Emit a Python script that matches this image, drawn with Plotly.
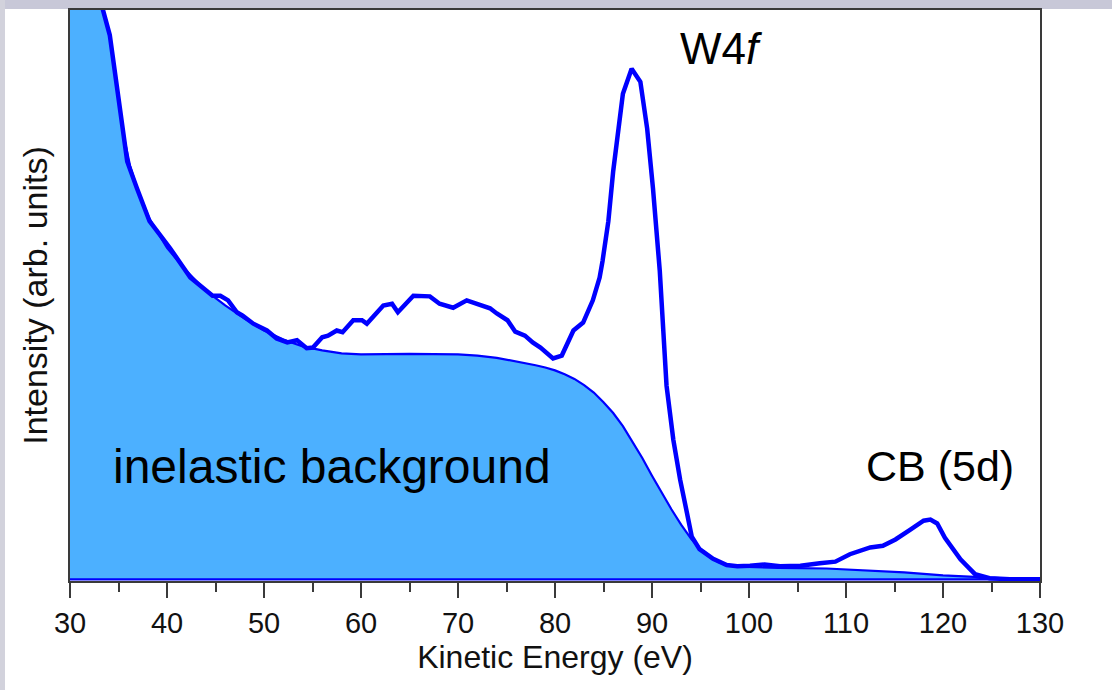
import plotly.graph_objects as go

# Measured spectrum: kinetic energy (eV) and intensity (arb. units)
spec_energy = [
    31.0, 32.0, 33.0, 33.4, 34.1, 34.6, 35.05, 35.6, 35.9, 36.9, 38.2, 40.3, 42.4,
    44.7, 45.5, 46.3, 47.2, 47.8, 48.9, 50.3, 51.3, 52.4, 53.4, 54.4, 55.05,
    56.0, 56.6, 57.5, 58.1, 59.2, 60.1, 60.6, 62.3, 63.2, 63.8, 65.4, 66.1,
    67.1, 68.1, 69.5, 70.9, 71.5, 73.3, 74.0, 75.1, 75.9, 76.9, 77.7, 78.5,
    79.8, 80.7, 81.9, 82.9, 83.9, 84.6, 84.9, 85.5, 86.0, 86.5, 87.0, 87.9,
    88.8, 89.5, 90.1, 90.8, 91.1, 91.5, 92.2, 92.9, 93.6, 94.1, 94.9, 96.3,
    97.7, 98.8, 100.1, 101.6, 103.2, 105.3, 107.3, 108.9, 110.4, 112.5, 113.8,
    115.1, 116.6, 118.0, 118.7, 119.4, 120.2, 121.8, 123.3, 124.8, 126.9, 130.0,
]
spec_intensity = [
    130.0, 115.0, 104.0, 100.0, 95.6, 89.7, 83.9, 78.1, 73.4, 68.7, 62.9, 58.2, 53.0,
    49.8, 49.8, 49.0, 46.9, 46.3, 44.9, 43.7, 42.3, 41.6, 42.0, 40.6, 40.7,
    42.5, 42.8, 43.7, 43.4, 45.5, 45.5, 44.9, 48.1, 48.4, 46.9, 49.8, 49.7,
    49.7, 48.4, 47.7, 49.0, 48.6, 47.6, 46.7, 45.5, 43.5, 42.8, 41.6, 40.7,
    38.8, 39.3, 43.7, 45.1, 49.0, 53.0, 55.9, 62.9, 71.7, 79.2, 85.3, 89.7,
    87.4, 79.2, 68.7, 54.2, 44.0, 34.0, 24.5, 17.5, 11.7, 7.5, 5.3, 3.6,
    2.5, 2.3, 2.4, 2.6, 2.3, 2.4, 2.8, 3.1, 4.4, 5.6, 5.9,
    7.0, 8.7, 10.3, 10.5, 9.8, 7.3, 3.5, 0.9, 0.2, 0.0, 0.0,
]

# Inelastic (secondary-electron) background
bg_energy = [
    30.0, 31.0, 32.0, 33.0, 33.4, 34.1, 34.6, 35.05, 35.6, 36.2, 37.0, 38.2, 40.0,
    42.0, 44.0, 46.0, 48.0, 50.0, 52.0, 54.0, 56.0, 58.0, 60.0, 65.0, 70.0,
    72.0, 74.0, 76.0, 78.0, 79.0, 80.0, 81.0, 82.0, 83.0, 84.0, 85.0, 86.0,
    87.0, 88.0, 89.0, 90.0, 91.0, 92.0, 93.0, 94.0, 95.0, 96.0, 97.0, 98.0,
    99.0, 103.0, 108.0, 112.0, 116.0, 120.0, 124.0, 127.0, 130.0,
]
bg_intensity = [
    150.0, 130.0, 115.0, 103.5, 100.0, 95.3, 89.5, 83.6, 77.4, 72.6, 68.2, 63.3, 58.2,
    54.2, 50.7, 48.1, 45.8, 43.7, 42.1, 40.9, 40.2, 39.7, 39.5, 39.6, 39.5,
    39.3, 38.9, 38.3, 37.6, 37.2, 36.7, 36.0, 35.2, 34.1, 32.8, 31.1, 29.2,
    26.9, 24.2, 21.3, 18.2, 15.2, 12.3, 9.6, 7.2, 5.2, 3.8, 2.9, 2.4,
    2.2, 2.0, 1.9, 1.6, 1.2, 0.7, 0.3, 0.1, 0.0,
]

x_ticks = [30, 40, 50, 60, 70, 80, 90, 100, 110, 120, 130]
x_range = [30, 130]
y_range = [-0.3, 100]

FONT = "Liberation Sans, Arial, sans-serif"
LINE_BLUE = "#0000FF"
FILL_BLUE = "#4CB0FF"
FRAME = "#3a3a3a"

fig = go.Figure()

# Background region closed down to the energy axis
fig.add_trace(go.Scatter(
    x=bg_energy + [bg_energy[-1], bg_energy[0]],
    y=bg_intensity + [0, 0],
    mode="lines",
    fill="toself",
    fillcolor=FILL_BLUE,
    line=dict(color=LINE_BLUE, width=2.2),
    hoverinfo="skip",
    showlegend=False,
))

# Measured spectrum
fig.add_trace(go.Scatter(
    x=spec_energy,
    y=spec_intensity,
    mode="lines",
    line=dict(color=LINE_BLUE, width=4.5),
    showlegend=False,
))

fig.update_xaxes(
    range=x_range,
    tickmode="array",
    tickvals=x_ticks,
    ticks="outside",
    ticklen=15,
    tickwidth=1.5,
    tickcolor=FRAME,
    minor=dict(dtick=5, tick0=30, ticks="outside", ticklen=9, tickwidth=1.5, tickcolor=FRAME),
    showline=True,
    linecolor=FRAME,
    linewidth=2,
    mirror=True,
    showgrid=False,
    zeroline=False,
    tickfont=dict(family=FONT, size=29, color="#111111"),
    title=dict(text="Kinetic Energy (eV)", font=dict(family=FONT, size=32, color="#111111"), standoff=6),
)
fig.update_yaxes(
    range=y_range,
    showticklabels=False,
    ticks="",
    showline=True,
    linecolor=FRAME,
    linewidth=2,
    mirror=True,
    showgrid=False,
    zeroline=False,
    title=dict(text="Intensity (arb. units)", font=dict(family=FONT, size=34, color="#111111"), standoff=10),
)

annotations = [
    dict(x=97.2, y=93.3, text="W4<i>f</i>", font=dict(family=FONT, size=44, color="#000000"),
         showarrow=False, xanchor="center", yanchor="middle"),
    dict(x=34.2, y=19.8, text="inelastic background", font=dict(family=FONT, size=48, color="#000000"),
         showarrow=False, xanchor="left", yanchor="middle"),
    dict(x=119.7, y=19.9, text="CB (5d)", font=dict(family=FONT, size=43, color="#000000"),
         showarrow=False, xanchor="center", yanchor="middle"),
]

# Slide frame strips along the top and left edges
shapes = [
    dict(type="rect", xref="paper", yref="paper", x0=-0.08, x1=1.1, y0=1.0017, y1=1.02,
         fillcolor="#c8c8d8", line=dict(width=0), layer="below"),
    dict(type="rect", xref="paper", yref="paper", x0=-0.08, x1=-0.0670, y0=-0.2, y1=1.02,
         fillcolor="#d2d2dc", line=dict(width=0), layer="below"),
]

fig.update_layout(
    width=1112,
    height=690,
    margin=dict(l=70, r=72, t=8, b=109),
    paper_bgcolor="white",
    plot_bgcolor="white",
    annotations=annotations,
    shapes=shapes,
    font=dict(family=FONT),
)

fig.write_html("out.html")
